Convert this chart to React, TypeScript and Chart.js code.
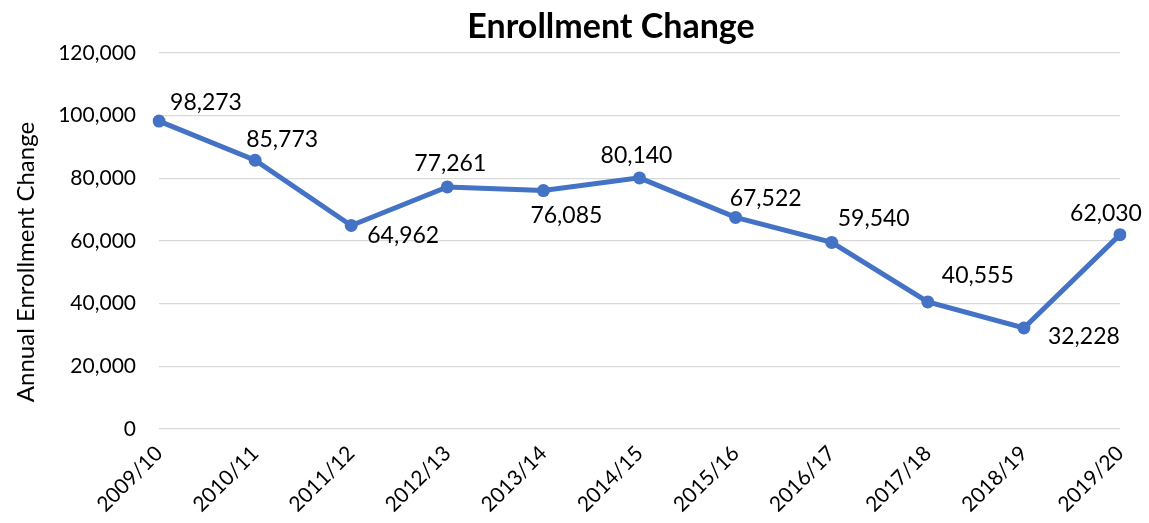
import React, { useEffect, useRef } from "react";
import { Chart, registerables } from "chart.js";

Chart.register(...registerables);

const categories = ["2009/10", "2010/11", "2011/12", "2012/13", "2013/14", "2014/15", "2015/16", "2016/17", "2017/18", "2018/19", "2019/20"];
const enrollmentChange = [98273, 85773, 64962, 77261, 76085, 80140, 67522, 59540, 40555, 32228, 62030];
const yTicks = [0, 20000, 40000, 60000, 80000, 100000, 120000];
const chartTitle = "Enrollment Change";
const yAxisTitle = "Annual Enrollment Change";
// label placement (pixel offset of label centre from its point)
const labelOffsets: [number, number][] = [
  [47, -18], [27, -21], [52, 10], [3, -23], [23, 25], [-3, -22], [30, -19], [42, -24], [50, -26], [60, 9], [-14, -21],
];

const FONT = "Lato, 'Open Sans', sans-serif";

const labelPlugin = {
  id: "pointLabels",
  afterDatasetsDraw(chart: any) {
    const meta = chart.getDatasetMeta(0);
    const ctx = chart.ctx;
    ctx.save();
    ctx.font = `23px ${FONT}`;
    ctx.fillStyle = "#000";
    ctx.textAlign = "center";
    ctx.textBaseline = "middle";
    meta.data.forEach((pt: any, i: number) => {
      const v = enrollmentChange[i];
      const [dx, dy] = labelOffsets[i];
      ctx.fillText(v.toLocaleString("en-US"), pt.x + dx, pt.y + dy);
    });
    // chart title
    ctx.font = `bold 34px ${FONT}`;
    ctx.fillText(chartTitle, 611, 27);
    // y axis title
    ctx.font = `24px ${FONT}`;
    ctx.translate(26, 262);
    ctx.rotate(-Math.PI / 2);
    ctx.fillText(yAxisTitle, 0, 0);
    ctx.restore();
  },
};

export default function App() {
  const ref = useRef<HTMLCanvasElement>(null);
  useEffect(() => {
    const chart = new Chart(ref.current!, {
      type: "line",
      data: {
        labels: categories,
        datasets: [
          {
            data: enrollmentChange,
            borderColor: "#4472C4",
            backgroundColor: "#4472C4",
            borderWidth: 5,
            pointRadius: 6.5,
            pointBackgroundColor: "#4472C4",
            pointBorderWidth: 0,
            tension: 0,
          },
        ],
      },
      options: {
        animation: false,
        responsive: false,
        layout: { padding: { left: 0, right: 29, top: 53, bottom: 0 } },
        plugins: {
          legend: { display: false },
          tooltip: { enabled: false },
          title: { display: false },
        },
        scales: {
          x: {
            offset: false,
            grid: { display: false },
            border: { display: false },
            ticks: {
              color: "#000",
              font: { family: FONT, size: 21 },
              maxRotation: 45,
              minRotation: 45,
              autoSkip: false,
              padding: 4,
            },
            afterFit: (s: any) => {
              s.height = 94;
            },
          },
          y: {
            min: 0,
            max: 120000,
            afterBuildTicks: (s: any) => {
              s.ticks = yTicks.map((v) => ({ value: v }));
            },
            grid: { color: "#d9d9d9", lineWidth: 1.3, drawTicks: false },
            border: { display: false },
            ticks: {
              color: "#000",
              font: { family: FONT, size: 21 },
              padding: 23,
              callback: (v: any) => Number(v).toLocaleString("en-US"),
            },
            afterFit: (s: any) => {
              s.width = 159;
            },
          },
        },
      },
      plugins: [labelPlugin],
    } as any);
    return () => chart.destroy();
  }, []);
  return (
    <div style={{ position: "fixed", left: 0, top: 0, width: 1149, height: 523, background: "#fff" }}>
      <canvas ref={ref} width={1149} height={523} />
    </div>
  );
}
